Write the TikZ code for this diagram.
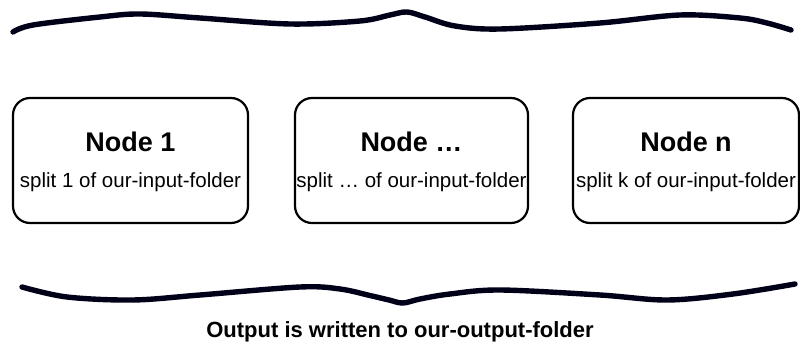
\documentclass[tikz,border=0pt]{standalone}
\usepackage{fontspec}
\setmainfont{Liberation Sans}
\usetikzlibrary{positioning}

\begin{document}
\begin{tikzpicture}[x=1pt, y=-1pt,
    boxnode/.style={draw, line width=2.2pt, rounded corners=17pt, minimum height=125pt, inner sep=0pt},
    titletext/.style={font=\bfseries\fontsize{27}{30}\selectfont, inner sep=0pt},
    subtext/.style={font=\fontsize{20.5}{23}\selectfont, inner sep=0pt},
    brush/.style={line width=5.4pt, line cap=round, line join=round, color=black!90!blue}]
    \useasboundingbox (0,0) rectangle (800,344);

    % Top brush stroke
    \draw[brush] plot[smooth, tension=0.55] coordinates {(13,32) (33,25) (100,17) (140,14) (200,18) (290,24) (360,21) (390,15) (407,12) (425,17) (455,26) (500,29) (600,23) (680,15) (740,18) (767,23) (791,30)};

    % Nodes
    \node[boxnode, minimum width=235pt] (box1) at (130.5,160.5) {};
    \node[boxnode, minimum width=233pt] (box2) at (411.5,160.5) {};
    \node[boxnode, minimum width=226pt] (box3) at (686,160.5) {};

    \node[titletext] (title1) at ([yshift=-45pt]box1.north) {Node 1};
    \node[titletext] (title2) at ([yshift=-45pt]box2.north) {Node \dots};
    \node[titletext] (title3) at ([yshift=-45pt]box3.north) {Node n};

    \node[subtext] (split1) at ([yshift=-85pt]box1.north) {split 1 of our-input-folder};
    \node[subtext] (split2) at ([yshift=-85pt]box2.north) {split \dots\ of our-input-folder};
    \node[subtext] (split3) at ([yshift=-85pt]box3.north) {split k of our-input-folder};

    % Bottom brush stroke
    \draw[brush] plot[smooth, tension=0.55] coordinates {(22,287) (67,297) (133,300) (200,295) (300,287) (340,289) (372,296) (389,300) (403,303) (420,299) (450,294) (500,290) (600,295) (667,300) (733,294) (795,284)};

    % Output label
    \node[font=\bfseries\fontsize{22}{25}\selectfont, inner sep=0pt] (output) at (400,332) {Output is written to our-output-folder};
\end{tikzpicture}
\end{document}
